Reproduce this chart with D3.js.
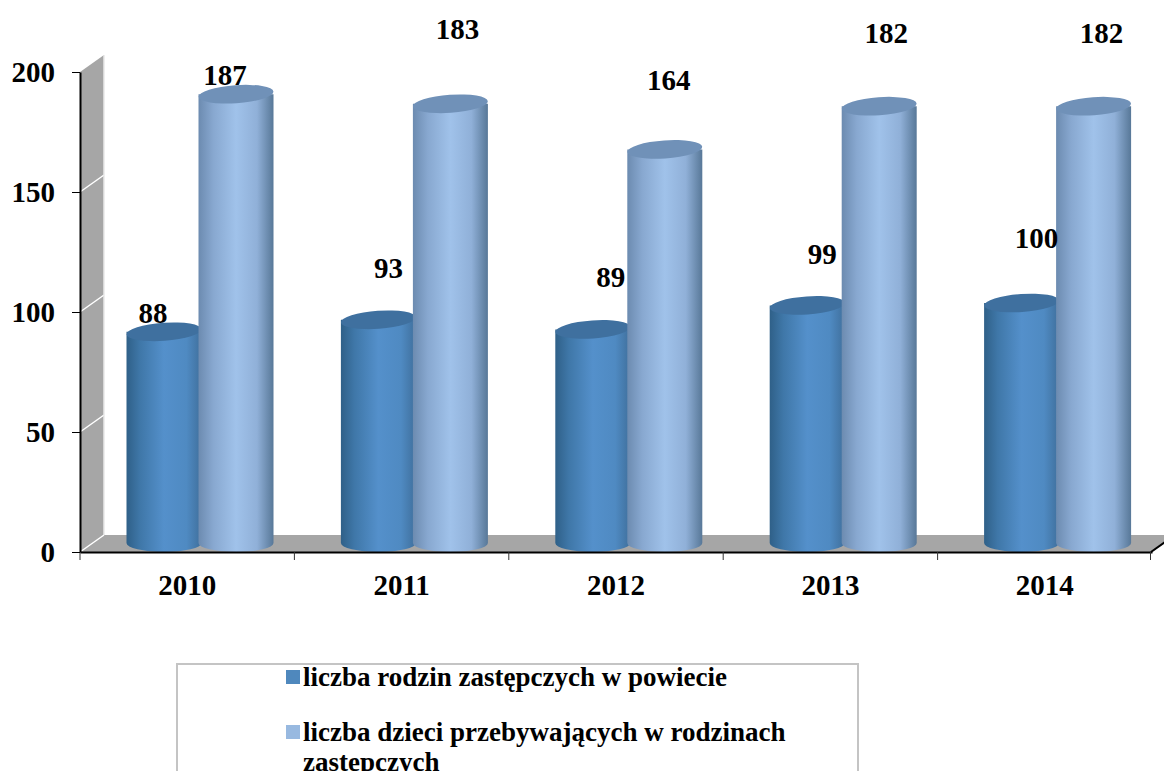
<!DOCTYPE html>
<html>
<head>
<meta charset="utf-8">
<script src="https://cdn.jsdelivr.net/npm/d3@7"></script>
<style>
  html, body { margin: 0; padding: 0; background: #fff; overflow: hidden; }
  svg { display: block; }
  text { font-family: "Liberation Serif", serif; font-weight: bold; fill: #000; }
</style>
</head>
<body>
<script>
// Chart values.
const years = ['2010', '2011', '2012', '2013', '2014'];
const families = [88, 93, 89, 99, 100];
const children = [187, 183, 164, 182, 182];
const yTicks = [0, 50, 100, 150, 200];
const legendLines = ['liczba rodzin zastępczych w powiecie', 'liczba dzieci przebywających w rodzinach', 'zastępczych'];

// Labels were dragged by hand in the original, so these are offsets from the bar top.
const familyLabelShift = [[-11, -9], [10, -42], [18, -42], [15, -41], [15, -55]];
const childLabelShift = [[-11, -9], [7, -65], [4, -59], [7, -63], [8, -63]];

const size = {width: 1164, height: 771};
const plot = {left: 80, right: 1152, top: 72, bottom: 552};
const depth = {x: 24, y: 17};
const cyl = {width: 75, ry: 9, lift: 9, inset: 46.5, overlap: 72};
const fontSize = 29;

const svg = d3.select('body').append('svg')
  .attr('width', size.width)
  .attr('height', size.height);

const xScale = d3.scaleBand().domain(years).range([plot.left, plot.right]);
const yScale = d3.scaleLinear().domain([0, 200]).range([plot.bottom, plot.top]);

// Gradients for the cylinder sides.
const defs = svg.append('defs');
function addGradient(id, stops) {
  const g = defs.append('linearGradient').attr('id', id)
    .attr('x1', '0%').attr('x2', '100%').attr('y1', '0%').attr('y2', '0%');
  stops.forEach((s) => {
    g.append('stop').attr('offset', s[0]).attr('stop-color', s[1]);
  });
}
addGradient('darkSide', [[0, '#2f6088'], [0.18, '#3f77a8'], [0.5, '#5490cb'], [0.8, '#4f8ac2'], [1, '#3f6f9c']]);
addGradient('lightSide', [[0, '#6c8bb0'], [0.2, '#88a8d0'], [0.5, '#a0c2ea'], [0.78, '#90b0d8'], [1, '#587898']]);

// Side wall and floor.
const wall = svg.append('g');
wall.append('polygon')
  .attr('fill', '#a6a6a6')
  .attr('points', [
    [plot.left, yScale(200)],
    [plot.left + depth.x, yScale(200) - depth.y],
    [plot.left + depth.x, yScale(0) - depth.y],
    [plot.left, yScale(0)]
  ].join(' '));
wall.append('polygon')
  .attr('fill', '#a6a6a6')
  .attr('points', [
    [plot.left, plot.bottom],
    [plot.left + depth.x, plot.bottom - depth.y],
    [plot.right + depth.x, plot.bottom - depth.y],
    [plot.right, plot.bottom]
  ].join(' '));
wall.selectAll('line.grid')
  .data(yTicks.slice(0, 4))
  .enter()
  .append('line')
  .attr('class', 'grid')
  .attr('x1', plot.left)
  .attr('x2', plot.left + depth.x)
  .attr('y1', (d) => yScale(d))
  .attr('y2', (d) => yScale(d) - depth.y)
  .attr('stroke', '#fff')
  .attr('stroke-width', 1.5);
wall.append('line')
  .attr('x1', plot.left + depth.x).attr('x2', plot.left + depth.x)
  .attr('y1', yScale(0) - depth.y).attr('y2', yScale(200) - depth.y)
  .attr('stroke', '#e8e8e8').attr('stroke-width', 1.5);

// One cylinder: side with a rounded bottom, then the top cap.
function drawCylinder(x, value, sideId, capColor) {
  const topY = yScale(value) - cyl.lift;
  const baseY = yScale(0) - cyl.lift;
  const rx = cyl.width / 2;
  const g = svg.append('g');
  g.append('path')
    .attr('fill', 'url(#' + sideId + ')')
    .attr('d', 'M' + x + ',' + topY +
      ' L' + x + ',' + baseY +
      ' A' + rx + ',' + cyl.ry + ' 0 0 0 ' + (x + cyl.width) + ',' + baseY +
      ' L' + (x + cyl.width) + ',' + topY + ' Z');
  g.append('ellipse')
    .attr('cx', x + rx)
    .attr('cy', topY)
    .attr('rx', rx)
    .attr('ry', cyl.ry)
    .attr('fill', capColor)
    .attr('transform', 'rotate(-4 ' + (x + rx) + ' ' + topY + ')');
}

years.forEach((year, i) => {
  const x = xScale(year) + cyl.inset;
  drawCylinder(x, families[i], 'darkSide', '#3f709f');
  drawCylinder(x + cyl.overlap, children[i], 'lightSide', '#7091b8');
});

// Axes.
const xAxis = d3.axisBottom(xScale).tickSize(0).tickPadding(22);
const xAxisG = svg.append('g')
  .attr('transform', 'translate(0,' + plot.bottom + ')')
  .call(xAxis);
xAxisG.selectAll('text').attr('font-size', fontSize);
xAxisG.select('.domain').attr('stroke', '#000').attr('stroke-width', 2);
xAxisG.selectAll('line.cut')
  .data(xScale.domain().concat(['end']))
  .enter()
  .append('line')
  .attr('class', 'cut')
  .attr('x1', (d) => d === 'end' ? plot.right - 1.5 : xScale(d))
  .attr('x2', (d) => d === 'end' ? plot.right - 1.5 : xScale(d))
  .attr('y1', 0)
  .attr('y2', 8)
  .attr('stroke', '#333');
svg.append('line')
  .attr('x1', plot.right - 1).attr('y1', plot.bottom)
  .attr('x2', plot.right + 13).attr('y2', plot.bottom - 10)
  .attr('stroke', '#000').attr('stroke-width', 2);

const yAxis = d3.axisLeft(yScale).tickValues(yTicks).tickSize(8).tickSizeOuter(0).tickPadding(17);
const yAxisG = svg.append('g')
  .attr('transform', 'translate(' + plot.left + ',0)')
  .call(yAxis);
yAxisG.selectAll('text').attr('font-size', fontSize);
yAxisG.select('.domain').attr('stroke', '#000').attr('stroke-width', 2);

// Data labels.
function addLabels(values, shifts, offset) {
  svg.append('g').selectAll('text')
    .data(values)
    .enter()
    .append('text')
    .attr('font-size', fontSize)
    .attr('text-anchor', 'middle')
    .attr('x', (d, i) => xScale(years[i]) + cyl.inset + offset + cyl.width / 2 + shifts[i][0])
    .attr('y', (d, i) => yScale(d) - cyl.lift + shifts[i][1])
    .text((d) => d);
}
addLabels(families, familyLabelShift, 0);
addLabels(children, childLabelShift, cyl.overlap);

// Legend, cut off by the bottom of the picture.
const legend = svg.append('g');
legend.append('rect')
  .attr('x', 177).attr('y', 664)
  .attr('width', 681).attr('height', 120)
  .attr('fill', '#fff')
  .attr('stroke', '#c4c4c4')
  .attr('stroke-width', 2);
legend.append('rect').attr('x', 286).attr('y', 670).attr('width', 14).attr('height', 14).attr('fill', '#4f88bd');
legend.append('rect').attr('x', 286).attr('y', 725).attr('width', 14).attr('height', 14).attr('fill', '#98b9e0');
legend.selectAll('text')
  .data(legendLines)
  .enter()
  .append('text')
  .attr('x', 303)
  .attr('y', (d, i) => [686, 741, 771][i])
  .attr('font-size', 27)
  .text((d) => d);
</script>
</body>
</html>
